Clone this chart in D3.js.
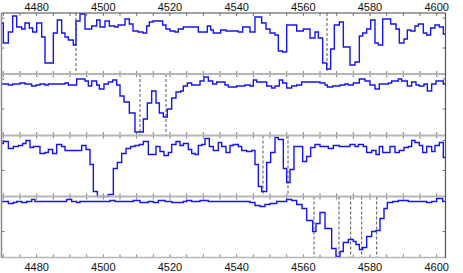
<!DOCTYPE html>
<html>
<head>
<meta charset="utf-8">
<script src="https://cdn.jsdelivr.net/npm/d3@7"></script>
<style>
  body { margin: 0; background: #fff; }
  text { font-family: "Liberation Sans", Arial, sans-serif; font-size: 11px; fill: #111; }
</style>
</head>
<body>
<svg id="chart" width="463" height="273"></svg>
<script>
// wavelength (A) / normalised flux, one array per stacked spectrum
var spec1 = [[4469.3,1.00],[4470.0,0.80],[4471.5,0.91],[4472.8,1.07],[4474.0,0.96],[4475.5,0.94],[4476.5,1.00],[4477.8,0.95],[4478.8,0.91],[4480.0,1.00],[4481.5,0.86],[4482.5,0.60],[4485.0,0.90],[4486.2,1.03],[4487.5,0.90],[4488.5,0.86],[4489.5,0.83],[4491.0,0.78],[4491.8,1.02],[4493.0,1.09],[4494.5,0.94],[4496.5,0.97],[4498.0,1.03],[4499.0,0.96],[4500.5,1.02],[4501.8,0.97],[4503.5,0.96],[4504.4,0.98],[4506.5,1.04],[4507.8,0.99],[4508.9,0.92],[4510.4,0.91],[4511.9,0.90],[4513.0,0.97],[4513.8,1.01],[4514.9,1.02],[4516.4,1.02],[4517.8,0.98],[4518.8,0.94],[4520.0,0.92],[4521.5,0.91],[4522.5,0.94],[4524.0,0.96],[4528.5,0.91],[4531.2,0.97],[4532.2,0.93],[4533.0,0.90],[4535.2,0.93],[4536.8,0.92],[4540.5,0.91],[4541.8,0.96],[4543.0,0.96],[4544.0,0.91],[4545.5,1.06],[4547.5,1.00],[4548.8,0.94],[4550.0,0.90],[4551.5,0.88],[4552.5,0.72],[4553.8,0.71],[4555.0,0.98],[4558.0,0.92],[4560.0,0.94],[4562.0,0.85],[4563.5,0.91],[4564.5,0.85],[4565.8,0.60],[4567.0,0.54],[4568.2,0.74],[4569.3,0.98],[4570.8,1.01],[4572.0,0.76],[4574.0,0.58],[4575.5,0.61],[4576.8,0.87],[4577.8,0.90],[4579.0,0.94],[4580.2,1.03],[4581.5,0.80],[4582.5,0.78],[4583.8,1.04],[4586.2,0.99],[4587.8,0.94],[4588.8,0.80],[4590.2,0.84],[4591.2,0.93],[4592.2,0.92],[4593.5,0.97],[4594.5,0.99],[4596.0,0.90],[4597.0,0.88],[4598.2,0.95],[4599.5,0.98],[4600.8,0.96],[4602.0,0.89]];

var spec2 = [[4469.3,1.00],[4471.5,0.99],[4472.8,1.00],[4475.0,1.01],[4476.5,1.00],[4478.5,0.98],[4479.8,0.99],[4481.0,1.00],[4482.5,0.99],[4483.5,1.00],[4488.5,1.01],[4489.5,0.99],[4492.0,1.05],[4494.5,1.03],[4495.5,0.98],[4496.5,1.03],[4498.0,0.99],[4498.8,0.95],[4500.2,1.00],[4501.5,1.02],[4502.8,1.04],[4504.0,0.99],[4505.0,0.88],[4506.2,0.82],[4507.8,0.71],[4509.5,0.52],[4510.8,0.52],[4512.0,0.65],[4513.2,0.81],[4514.5,0.93],[4515.8,0.81],[4516.8,0.71],[4518.0,0.67],[4519.2,0.75],[4520.5,0.86],[4521.8,0.92],[4523.2,0.93],[4524.0,0.98],[4525.2,1.01],[4526.5,0.99],[4529.0,1.03],[4530.2,1.07],[4531.5,1.03],[4532.8,1.00],[4534.0,1.02],[4536.5,0.99],[4537.5,0.97],[4540.0,0.98],[4542.5,0.99],[4544.0,0.98],[4545.0,1.04],[4546.0,1.02],[4549.0,0.98],[4550.5,0.96],[4551.5,0.98],[4552.8,1.04],[4553.8,1.01],[4555.0,0.96],[4556.5,0.98],[4558.0,0.99],[4559.5,1.02],[4565.0,1.01],[4566.5,0.99],[4567.2,0.97],[4568.8,0.98],[4571.0,0.99],[4572.5,1.00],[4573.5,0.99],[4575.0,1.01],[4576.8,1.05],[4578.5,1.03],[4580.0,0.99],[4581.5,0.95],[4582.8,1.00],[4585.5,1.01],[4586.5,1.03],[4588.5,1.05],[4589.5,1.03],[4591.2,0.98],[4592.5,1.02],[4593.8,0.99],[4594.8,0.98],[4596.2,1.00],[4597.2,0.93],[4598.5,1.00],[4599.8,1.03],[4602.0,1.00]];

var spec3 = [[4469.3,1.02],[4470.0,1.04],[4471.5,0.97],[4473.0,0.99],[4474.5,1.00],[4475.8,1.02],[4476.8,1.05],[4478.0,0.98],[4479.0,0.99],[4481.0,0.92],[4482.5,0.93],[4483.5,0.96],[4484.8,0.92],[4486.0,1.01],[4487.5,0.99],[4488.5,0.95],[4493.5,1.00],[4494.8,0.96],[4496.0,0.81],[4497.0,0.54],[4498.2,0.49],[4501.5,0.51],[4503.0,0.77],[4504.2,0.83],[4505.5,0.92],[4506.8,0.97],[4508.2,0.99],[4509.5,1.00],[4510.8,1.01],[4512.0,1.04],[4513.5,0.91],[4515.8,0.99],[4517.0,0.94],[4518.2,0.90],[4519.5,0.93],[4520.5,1.01],[4521.8,1.04],[4523.0,1.00],[4524.0,1.02],[4525.5,0.96],[4526.5,0.92],[4527.5,0.91],[4528.5,1.00],[4529.5,1.01],[4530.5,1.07],[4531.8,0.99],[4533.0,0.95],[4534.5,1.03],[4535.5,0.99],[4536.8,0.93],[4538.0,1.00],[4539.0,1.01],[4540.5,0.99],[4541.5,0.95],[4543.0,0.94],[4544.5,0.95],[4545.5,0.81],[4546.5,0.59],[4547.5,0.54],[4549.0,0.83],[4550.2,0.93],[4551.5,1.08],[4552.5,1.06],[4554.0,0.77],[4555.0,0.63],[4556.0,0.76],[4557.2,0.99],[4559.8,0.84],[4561.0,0.89],[4562.2,0.98],[4563.5,1.01],[4565.0,0.99],[4567.5,0.97],[4569.0,1.00],[4570.8,0.99],[4574.0,1.01],[4575.5,0.99],[4576.5,1.01],[4578.0,0.99],[4579.0,0.93],[4580.5,0.95],[4581.8,0.91],[4582.8,0.99],[4583.8,0.93],[4586.0,0.99],[4587.5,0.93],[4588.8,0.95],[4590.2,0.98],[4591.5,0.99],[4592.5,1.05],[4593.5,1.03],[4594.8,1.00],[4595.8,0.93],[4597.0,0.99],[4598.5,0.94],[4599.5,1.00],[4600.8,1.03],[4602.0,0.88]];

var spec4 = [[4469.3,1.05],[4471.5,1.03],[4473.0,1.04],[4474.0,1.05],[4475.5,1.04],[4477.0,1.05],[4478.5,1.07],[4479.5,1.05],[4489.0,1.07],[4490.5,1.05],[4492.0,1.04],[4493.0,1.05],[4502.0,1.06],[4503.5,1.05],[4509.0,1.06],[4511.0,1.04],[4513.5,1.05],[4515.0,1.04],[4516.5,1.06],[4518.5,1.05],[4520.5,1.04],[4524.0,1.05],[4525.0,1.06],[4526.5,1.05],[4529.0,1.06],[4531.5,1.05],[4544.0,1.04],[4545.5,1.01],[4547.0,1.00],[4548.5,1.02],[4550.0,1.03],[4552.0,1.05],[4555.0,1.07],[4556.5,1.06],[4558.0,1.02],[4559.6,0.98],[4561.0,0.86],[4562.8,0.75],[4563.8,0.83],[4565.0,0.94],[4566.5,0.78],[4568.5,0.58],[4569.8,0.50],[4571.0,0.55],[4572.0,0.64],[4573.5,0.67],[4575.0,0.65],[4575.8,0.62],[4576.8,0.57],[4577.8,0.59],[4579.0,0.70],[4580.5,0.75],[4581.8,0.76],[4583.0,0.88],[4584.2,0.98],[4585.2,1.04],[4586.8,1.05],[4588.5,1.06],[4591.5,1.05],[4597.0,1.04],[4598.5,1.05],[4600.0,1.08],[4601.8,1.05]];

var spectra = [spec1, spec2, spec3, spec4];

// marked line positions for each panel
var marks = [
  [4491.8, 4567.1],
  [4511.0, 4518.8],
  [4547.9, 4555.4],
  [4563.2, 4570.7, 4574.2, 4577.5, 4582.0]
];

var xTicks = [4480, 4500, 4520, 4540, 4560, 4580, 4600];
var fluxTicks = [0.75, 1.05];

var svg = d3.select("#chart");
var left = 1.5, right = 445.5;
var panelTops = [13, 74, 135.5, 196.5];
var panelH = 61;
var waveEnd = 4602.65;

var x = d3.scaleLinear().domain([4469.45, waveEnd]).range([left, right]);

var line = d3.line().curve(d3.curveStepAfter);

spectra.forEach(function (spec, i) {
  var top = panelTops[i];
  var y = d3.scaleLinear().domain([0.49, 1.10]).range([top + panelH, top]);
  var g = svg.append("g").attr("class", "panel");

  // minor ticks along top and bottom of every panel
  var minor = d3.range(4470, 4603, 5);
  g.selectAll(".tt").data(minor).enter().append("line")
    .attr("x1", d => x(d)).attr("x2", d => x(d))
    .attr("y1", top).attr("y2", top + 3)
    .attr("stroke", "#777").attr("stroke-width", 1);
  g.selectAll(".tb").data(minor).enter().append("line")
    .attr("x1", d => x(d)).attr("x2", d => x(d))
    .attr("y1", top + panelH - 3).attr("y2", top + panelH)
    .attr("stroke", "#777").attr("stroke-width", 1);

  // flux ticks on both sides
  fluxTicks.forEach(function (t) {
    g.append("line").attr("x1", left).attr("x2", left + 3)
      .attr("y1", y(t)).attr("y2", y(t)).attr("stroke", "#777");
    g.append("line").attr("x1", right - 3).attr("x2", right)
      .attr("y1", y(t)).attr("y2", y(t)).attr("stroke", "#777");
  });

  // dashed marker lines
  g.selectAll(".mk").data(marks[i]).enter().append("line")
    .attr("x1", d => x(d)).attr("x2", d => x(d))
    .attr("y1", top).attr("y2", top + panelH)
    .attr("stroke", "#555").attr("stroke-width", 1)
    .attr("stroke-dasharray", "3,2");

  var pts = spec.map(d => [x(d[0]), y(d[1])]);
  pts.push([x(waveEnd), y(spec[spec.length - 1][1])]);
  g.append("path").attr("d", line(pts))
    .attr("fill", "none").attr("stroke", "#1515f0").attr("stroke-width", 1.4);
});

// panel separators and frame
[74, 135.5, 196.5].forEach(function (yy) {
  svg.append("line").attr("x1", left).attr("x2", right)
    .attr("y1", yy).attr("y2", yy).attr("stroke", "#b5b5b5").attr("stroke-width", 2);
});
svg.append("line").attr("x1", left).attr("x2", right).attr("y1", 13).attr("y2", 13)
  .attr("stroke", "#444").attr("stroke-width", 1);
svg.append("line").attr("x1", left).attr("x2", right).attr("y1", 257.5).attr("y2", 257.5)
  .attr("stroke", "#b5b5b5").attr("stroke-width", 1.5);
svg.append("line").attr("x1", left).attr("x2", left).attr("y1", 13).attr("y2", 258)
  .attr("stroke", "#888").attr("stroke-width", 1.5);
svg.append("line").attr("x1", right).attr("x2", right).attr("y1", 13).attr("y2", 258)
  .attr("stroke", "#555").attr("stroke-width", 1.2);

// wavelength labels, top and bottom
svg.selectAll(".lt").data(xTicks).enter().append("text")
  .attr("x", d => x(d)).attr("y", 10.8).attr("text-anchor", "middle").text(d => d);
svg.selectAll(".lb").data(xTicks).enter().append("text")
  .attr("x", d => x(d)).attr("y", 271).attr("text-anchor", "middle").text(d => d);
</script>
</body>
</html>
